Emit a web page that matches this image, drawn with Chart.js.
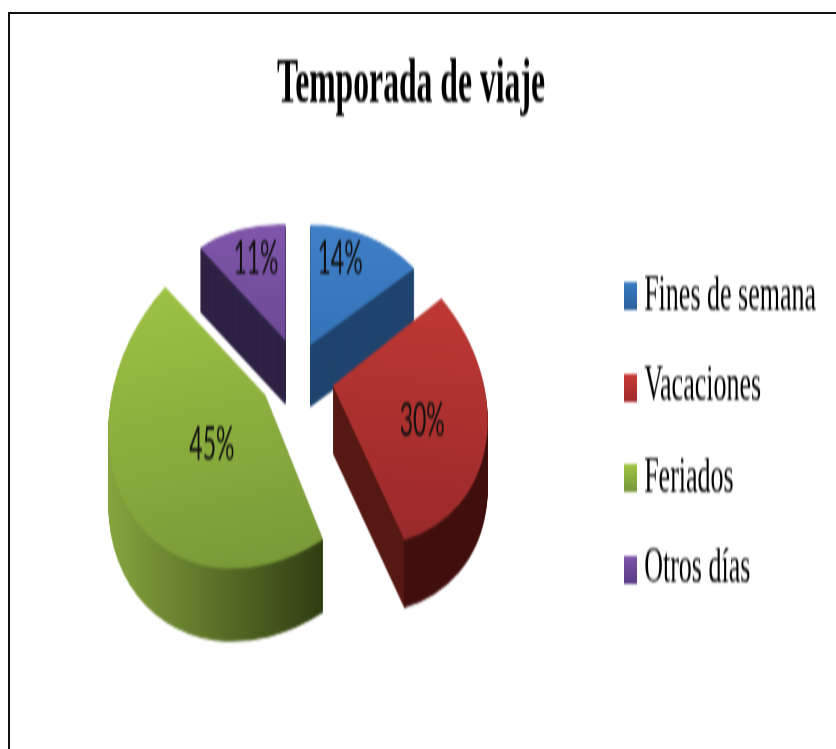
<!DOCTYPE html>
<html><head><meta charset="utf-8">
<script src="https://cdn.jsdelivr.net/npm/chart.js@4"></script>
<style>
html,body{margin:0;padding:0;background:#fff;overflow:hidden;width:836px;height:749px}
#frame{position:absolute;left:8px;top:12px;right:0;bottom:0;border-left:2px solid #111;border-top:2px solid #111;box-sizing:border-box}
#c{position:absolute;left:0;top:0;transform-origin:0 0;transform:scaleY(2);filter:blur(0.4px)}
</style></head><body>
<canvas id="c" width="836" height="375"></canvas>
<div id="frame"></div>
<script>
const titleText = 'Temporada de viaje';
const categories = ['Fines de semana','Vacaciones','Feriados','Otros días'];
const values = [14,30,45,11];
const valueLabels = ['14%','30%','45%','11%'];

const topColors = [['#3f80c8','#2c66a6'],['#c63c36','#98292a'],['#a2c745','#7a9a38'],['#8056ab','#5a3d80']];
const sideColors = [['#20456f','#20456f'],['#561813','#400f0d'],['#86a53e','#2f3d12'],['#2f2345','#2f2345']];
const legendColors = [['#3a7cc2','#2a609e'],['#cc3c38','#a02c2c'],['#a0c544','#76963a'],['#8056ab','#5a3d88']];
const radiiX = [135,154,157,134];
const radiiY = [60,79.5,85,58];
const shearX = [0,16,0,0];
const shearY = [0,9.4,-18,2.7];
const depths = [31,34,36.5,32];
const explode = [29,36,38,37];
const explodeFlatten = [0.51,0.75,0.59,0.45];
const labelFx = [0.22,0.58,-0.34,-0.22];
const labelFy = [-0.72,0.23,0.30,-0.71];
const drawOrder = [3,0,1,2];
const pieCenterX = 298, pieCenterY = 186;

function marker(cols){
  const cv=document.createElement('canvas');cv.width=13;cv.height=14;
  const x=cv.getContext('2d');const g=x.createLinearGradient(0,0,0,14);
  g.addColorStop(0,cols[0]);g.addColorStop(1,cols[1]);x.fillStyle=g;x.fillRect(0,0,13,14);return cv;
}
function apex(el,i){
  const m=(el.startAngle+el.endAngle)/2;
  return [pieCenterX+Math.cos(m)*explode[i], pieCenterY+Math.sin(m)*explode[i]*explodeFlatten[i]];
}
const pie3d={
  id:'pie3d',
  beforeDatasetDraw(chart){
    const ctx=chart.ctx, els=chart.getDatasetMeta(0).data;
    drawOrder.forEach(i=>{
      const el=els[i], R=el.outerRadius, saved=el.options;
      const [ax,ay]=apex(el,i);
      const plain=c=>({backgroundColor:c,borderWidth:0,borderColor:'transparent',offset:0,spacing:0,borderAlign:'center',circular:true,borderRadius:0,borderDash:[],borderDashOffset:0});
      const setup=d=>{ctx.translate(ax,ay+d);ctx.transform(radiiX[i]/R,shearY[i]/R,shearX[i]/R,radiiY[i]/R,0,0);ctx.translate(-el.x,-el.y);};
      ctx.save();setup(0);
      const cornerX=el.x+Math.cos(el.startAngle)*R;
      let side;
      if(i===2){side=ctx.createLinearGradient(el.x-R,0,cornerX,0);side.addColorStop(0,sideColors[i][0]);side.addColorStop(1,sideColors[i][1]);}
      else if(i===1){const k=el.x+Math.cos(el.endAngle)*R, f=(k-(el.x-R))/(2*R);side=ctx.createLinearGradient(el.x-R,0,el.x+R,0);side.addColorStop(0,sideColors[i][0]);side.addColorStop(f,sideColors[i][0]);side.addColorStop(f,sideColors[i][1]);side.addColorStop(1,sideColors[i][1]);}
      else side=sideColors[i][0];
      ctx.restore();
      el.options=plain(side);
      for(let d=depths[i];d>0;d-=0.5){ctx.save();setup(d);el.draw(ctx);ctx.restore();}
      ctx.save();setup(0);
      const g=ctx.createLinearGradient(0,el.y-R,0,el.y+R);
      g.addColorStop(0,topColors[i][0]);g.addColorStop(1,topColors[i][1]);
      el.options=plain(g);el.draw(ctx);ctx.restore();
      el.options=saved;
    });
    return false;
  },
  afterDatasetsDraw(chart){
    const ctx=chart.ctx, els=chart.getDatasetMeta(0).data;
    ctx.save();ctx.font='23px Lato';ctx.fillStyle='#111';ctx.textAlign='center';ctx.textBaseline='middle';
    els.forEach((el,i)=>{
      const [ax,ay]=apex(el,i);
      ctx.fillText(valueLabels[i],ax+labelFx[i]*radiiX[i],ay+labelFy[i]*radiiY[i]);
    });
    ctx.restore();
  }
};
new Chart(document.getElementById('c'),{
  type:'pie',
  data:{labels:categories,datasets:[{data:values,backgroundColor:topColors.map(c=>c[0]),borderWidth:0}]},
  plugins:[pie3d],
  options:{
    responsive:false,animation:false,
    layout:{padding:{right:10,left:-4,top:0,bottom:1}},
    plugins:{
      tooltip:{enabled:false},
      title:{display:true,text:titleText,color:'#000',font:{family:'Liberation Serif',size:31.7,weight:'bold',lineHeight:1},padding:{top:27,bottom:0}},
      legend:{position:'right',fullSize:false,labels:{usePointStyle:true,pointStyleWidth:1,boxHeight:14,padding:19.5,color:'#000',font:{family:'Liberation Serif',size:26},
        generateLabels(chart){
          return Chart.overrides.pie.plugins.legend.labels.generateLabels(chart).map((it,i)=>Object.assign(it,{pointStyle:marker(legendColors[i])}));
        }}}
    }
  }
});
</script></body></html>
